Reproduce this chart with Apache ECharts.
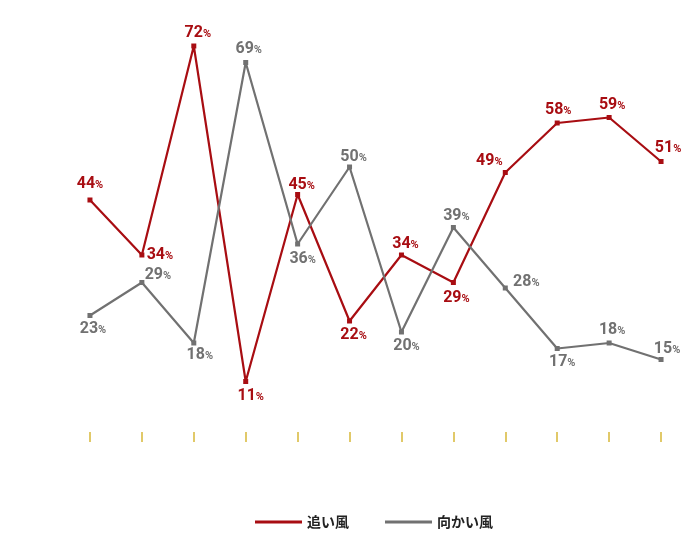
<!DOCTYPE html>
<html><head><meta charset="utf-8">
<script src="https://cdn.jsdelivr.net/npm/echarts@6/dist/echarts.min.js"></script>
<style>html,body{margin:0;padding:0;background:#fff}#c{width:688px;height:545px}</style>
</head><body><div id="c"></div>
<script>
const categories = ['1','2','3','4','5','6','7','8','9','10','11','12'];
const tailwind = [44,34,72,11,45,22,34,29,49,58,59,51];
const headwind = [23,29,18,69,36,50,20,39,28,17,18,15];
const redOff = [[0,-16],[18,0],[4,-13],[5,14],[4,-10],[4,14],[4,-11],[3,15],[-16,-12],[1,-13],[3,-13],[7,-14]];
const grayOff = [[3,13],[16,-8],[6,12],[3,-14],[5,15],[4,-10],[5,14],[3,-12],[21,-6],[5,13],[3,-13],[6,-11]];
function items(vals, offs){
  return vals.map((v,i)=>({value:v,label:{offset:offs[i]}}));
}
function lab(color){
  return {show:true,position:'inside',formatter:p=>'{n|'+p.value+'}{p|%}',
    rich:{n:{fontFamily:'Roboto',fontWeight:'bold',fontSize:16,color:color},
          p:{fontFamily:'Roboto',fontWeight:'bold',fontSize:11,color:color,padding:[3,0,0,0]}}};
}
const chart = echarts.init(document.getElementById('c'));
chart.setOption({
  animation:false,
  grid:{left:64,right:1,top:2,bottom:103},
  legend:{bottom:11,left:250,itemGap:36,itemWidth:47,itemHeight:3,icon:'rect',
    textStyle:{fontFamily:'Noto Sans CJK JP',fontWeight:'bold',fontSize:14,color:'#222'},
    data:['追い風','向かい風']},
  xAxis:{type:'category',data:categories,axisLine:{show:false},
    axisTick:{show:true,alignWithLabel:true,inside:true,length:10,lineStyle:{color:'#d8b838',width:1.5}},
    axisLabel:{show:false}},
  yAxis:{type:'value',min:0,max:80,show:false,splitLine:{show:false}},
  series:[
    {name:'追い風',type:'line',data:items(tailwind,redOff),symbol:'rect',symbolSize:5,
     itemStyle:{color:'#a80d12'},lineStyle:{color:'#a80d12',width:2.2},label:lab('#a80d12')},
    {name:'向かい風',type:'line',data:items(headwind,grayOff),symbol:'rect',symbolSize:5,
     itemStyle:{color:'#717171'},lineStyle:{color:'#717171',width:2.2},label:lab('#717171')}
  ]
});
</script></body></html>
